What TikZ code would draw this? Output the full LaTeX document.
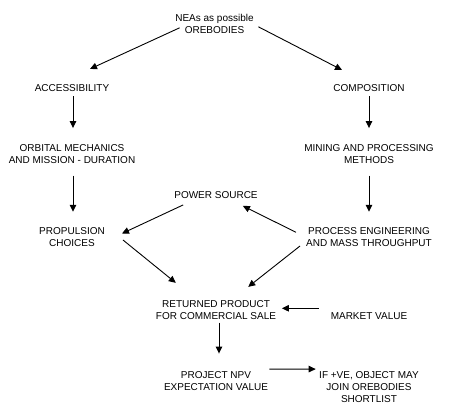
\documentclass[tikz,border=0pt]{standalone}
\usepackage{fontspec}
\setmainfont{Liberation Sans}
\usepackage{tikz}
\usetikzlibrary{%
        arrows.meta
    }
\tikzset{%
    stage/.style={%
        align=center, inner sep=0pt,
        font=\fontsize{10}{12}\selectfont
    },
    flow/.style={%
        line width=0.9pt,
        -{Triangle[length=7pt, width=6.5pt]}
    }
}

\begin{document}
\begin{tikzpicture}[x=1pt, y=-1pt]

    \useasboundingbox[fill=white] (0, 0) rectangle (450, 415);

    \node[stage] (nea) at (214.5, 23.8) {NEAs as possible\\OREBODIES};
    \node[stage] (access) at (72, 87.7) {ACCESSIBILITY};
    \node[stage] (compo) at (369, 87.7) {COMPOSITION};
    \node[stage] (orbital) at (72, 153.8) {%
        ORBITAL MECHANICS\\AND MISSION - DURATION};
    \node[stage] (mining) at (369, 153.8) {%
        MINING AND PROCESSING\\METHODS};
    \node[stage] (power) at (216, 195.5) {POWER SOURCE};
    \node[stage] (propul) at (72, 237.5) {PROPULSION\\CHOICES};
    \node[stage] (process) at (369, 237.5) {%
        PROCESS ENGINEERING\\AND MASS THROUGHPUT};
    \node[stage] (product) at (216, 310) {%
        RETURNED PRODUCT\\FOR COMMERCIAL SALE};
    \node[stage] (market) at (369, 315.8) {MARKET VALUE};
    \node[stage] (npv) at (216, 381.3) {PROJECT NPV\\EXPECTATION VALUE};
    \node[stage] (shortlist) at (369, 387.2) {%
        IF +VE, OBJECT MAY\\JOIN OREBODIES\\SHORTLIST};

    \draw[flow] ([xshift=4.5pt, yshift=-4pt] nea.west) --
        ([xshift=18pt, yshift=15pt] access.north);
    \draw[flow] ([xshift=4.5pt, yshift=-3pt] nea.east) --
        ([xshift=-27pt, yshift=14pt] compo.north);

    \draw[flow] ([xshift=1pt, yshift=-5pt] access.south) --
        ([xshift=1pt, yshift=16pt] orbital.north);
    \draw[flow] ([yshift=-5pt] compo.south) --
        ([yshift=16pt] mining.north);

    \draw[flow] ([xshift=1pt, yshift=-12pt] orbital.south) --
        ([xshift=1pt, yshift=16pt] propul.north);
    \draw[flow] ([yshift=-12pt] mining.south) --
        ([yshift=16pt] process.north);

    \draw[flow] ([xshift=9pt, yshift=-5.7pt] power.south west) --
        ([xshift=17pt, yshift=4pt] propul.east);
    \draw[flow] ([xshift=-10pt, yshift=5.2pt] process.west) --
        ([xshift=-15pt, yshift=-6.7pt] power.south east);

    \draw[flow] ([xshift=18pt, yshift=-2.5pt] propul.east) --
        ([xshift=20pt, yshift=17.4pt] product.north west);
    \draw[flow] ([xshift=-6pt, yshift=-8.5pt] process.west) --
        ([xshift=-28pt, yshift=13.4pt] product.north east);

    \draw[flow] ([xshift=-11.7pt, yshift=7.5pt] market.west) --
        ([xshift=5.7pt, yshift=1.7pt] product.east);

    \draw[flow] ([xshift=3pt, yshift=-3pt] product.south) --
        ([xshift=3pt, yshift=18pt] npv.north);
    \draw[flow] ([xshift=1.3pt, yshift=2.4pt] npv.north east) --
        ([xshift=-3.3pt, yshift=2.4pt] shortlist.north west);

\end{tikzpicture}
\end{document}
